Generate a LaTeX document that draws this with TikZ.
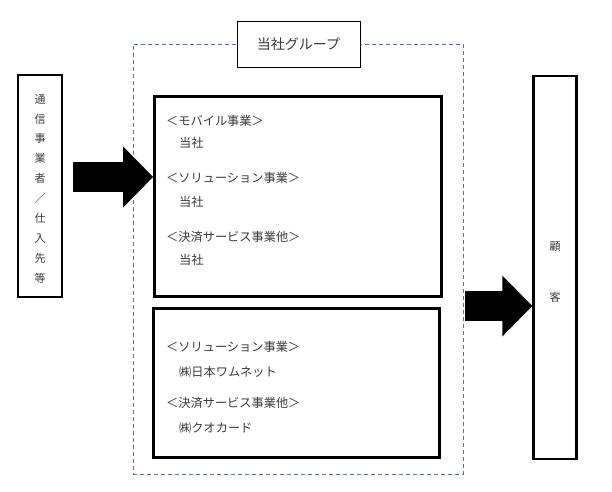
\documentclass[tikz,border=0pt]{standalone}
\usepackage{fontspec}
\setmainfont{Noto Sans CJK JP}
\usetikzlibrary{positioning, calc, arrows.meta}
\definecolor{groupblue}{HTML}{5574A6}
\definecolor{textgray}{HTML}{3A3A3A}

\begin{document}
\begin{tikzpicture}[x=1pt, y=-1pt,
    thickbox/.style={draw, line width=2.6pt, inner sep=0pt},
    sidebox/.style={draw, line width=2.3pt, inner sep=0pt},
    groupbox/.style={draw=groupblue, line width=0.8pt, dash pattern=on 4pt off 3pt, inner sep=0pt},
    txt/.style={anchor=west, inner sep=0pt, text=textgray, font=\fontsize{12.2}{14}\selectfont},
    vtxt/.style={inner sep=0pt, text=textgray, font=\fontsize{11}{13}\selectfont},
    bigarrow/.style={line width=30pt, -{Triangle[length=30pt, width=59pt]}}]

    \useasboundingbox (0,0) rectangle (612,491);

    % Group frame and its label
    \node[groupbox, minimum width=330, minimum height=430] (group) at (298,259) {};
    \node[draw, fill=white, line width=0.7pt, minimum width=123, minimum height=46,
          text=textgray, font=\fontsize{14}{16}\selectfont] (grouplabel) at (298.5,44) {当社グループ};

    % Suppliers on the left
    \node[sidebox, minimum width=44, minimum height=222] (supplier) at (40,186) {};
    \foreach \c [count=\i] in {通,信,事,業,者,／,仕,入,先,等}
        \node[vtxt] (sup\i) at (40,{99+(\i-1)*19.9}) {\c};

    % Upper box
    \node[thickbox, minimum width=287, minimum height=200] (upper) at (298,196.5) {};
    \node[txt] (mobhead) at (166,121) {＜モバイル事業＞};
    \node[txt] (mobco) at (179,143) {当社};
    \node[txt] (solhead) at (166,178) {＜ソリューション事業＞};
    \node[txt] (solco) at (179,202) {当社};
    \node[txt] (payhead) at (166,237) {＜決済サービス事業他＞};
    \node[txt] (payco) at (179,260) {当社};

    % Lower box
    \node[thickbox, minimum width=286, minimum height=149] (lower) at (296.5,383) {};
    \node[txt] (solheadb) at (166,347) {＜ソリューション事業＞};
    \node[txt] (solcob) at (179,372) {㈱日本ワムネット};
    \node[txt] (payheadb) at (166,403) {＜決済サービス事業他＞};
    \node[txt] (paycob) at (179,428) {㈱クオカード};

    % Customers on the right
    \node[sidebox, minimum width=43, minimum height=383] (customer) at (555,267.5) {};
    \node[vtxt] (cust1) at (555,247) {顧};
    \node[vtxt] (cust2) at (555,297) {客};

    % Block arrows
    \draw[bigarrow] ($(supplier.east |- 0,177)+(10,0)$) -- (upper.west |- 0,177);
    \draw[bigarrow] ($(group.east |- 0,306)+(2,0)$) -- (customer.west |- 0,306);

\end{tikzpicture}
\end{document}
